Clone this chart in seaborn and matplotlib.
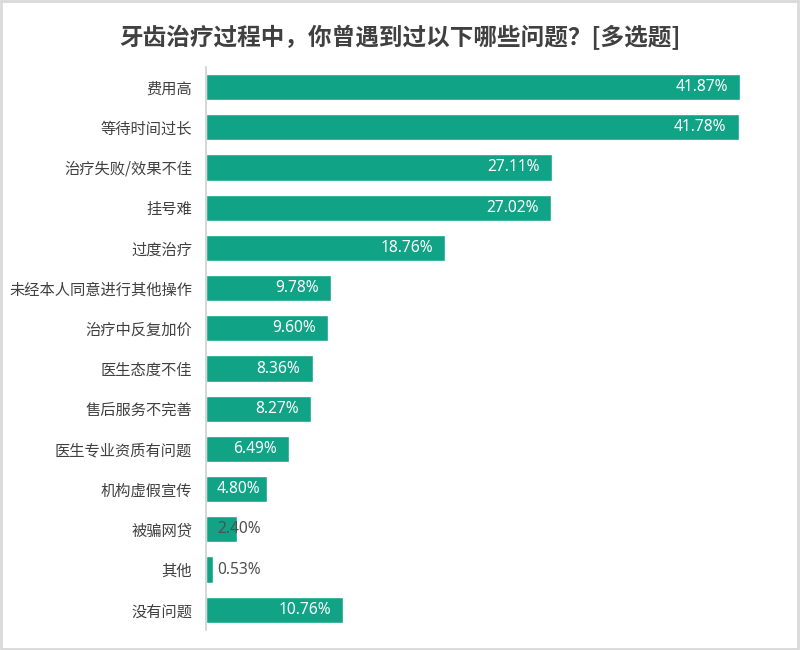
import matplotlib
matplotlib.use("Agg")
import matplotlib.pyplot as plt
import seaborn as sns
import pandas as pd
from matplotlib.patches import Rectangle

categories = ["费用高", "等待时间过长", "治疗失败/效果不佳", "挂号难", "过度治疗",
              "未经本人同意进行其他操作", "治疗中反复加价", "医生态度不佳", "售后服务不完善",
              "医生专业资质有问题", "机构虚假宣传", "被骗网贷", "其他", "没有问题"]
values = [41.87, 41.78, 27.11, 27.02, 18.76, 9.78, 9.60, 8.36, 8.27, 6.49, 4.80, 2.40, 0.53, 10.76]
title = "牙齿治疗过程中，你曾遇到过以下哪些问题？[多选题]"

sns.set_theme(style="white")
plt.rcParams['font.family'] = ['Noto Sans CJK SC', 'DejaVu Sans']

df = pd.DataFrame({"cat": categories, "val": values})

fig = plt.figure(figsize=(8, 6.5), dpi=100)
ax = fig.add_axes([0.2575, 0.031, 0.6925, 0.866])
color = "#10a385"
sns.barplot(data=df, x="val", y="cat", ax=ax, color=color, width=0.65,
            saturation=1, orient="h")

ax.set_xlim(0, 43.45)
ax.set_ylim(len(categories) - 0.5, -0.5)
ax.set_xlabel("")
ax.set_ylabel("")
ax.set_xticks([])
for s in ["top", "right", "bottom"]:
    ax.spines[s].set_visible(False)
ax.spines["left"].set_color("#d0d0d0")
ax.spines["left"].set_linewidth(1.2)
ax.tick_params(axis="y", length=0, pad=10, labelsize=11, labelcolor="#404040")

for i, v in enumerate(values):
    lab = f"{v:.2f}%"
    if v < 3:
        ax.text(0.85, i, lab, ha="left", va="center", color="#505050",
                fontsize=11.2, family=['Noto Sans', 'DejaVu Sans'])
    elif v < 5.2:
        ax.text(0.85, i, lab, ha="left", va="center", color="white",
                fontsize=11.2, family=['Noto Sans', 'DejaVu Sans'])
    else:
        ax.text(v - 0.95, i, lab, ha="right", va="center", color="white",
                fontsize=11.2, family=['Noto Sans', 'DejaVu Sans'])

fig.text(0.5, 0.943, title, ha="center", va="center", fontsize=17,
         color="#404040", fontweight="bold")

fig.patches.append(Rectangle((0.001, 0.001), 0.997, 0.997, transform=fig.transFigure,
                             fill=False, edgecolor="#d9d9d9", linewidth=2))

fig.savefig("out.png", dpi=100)
